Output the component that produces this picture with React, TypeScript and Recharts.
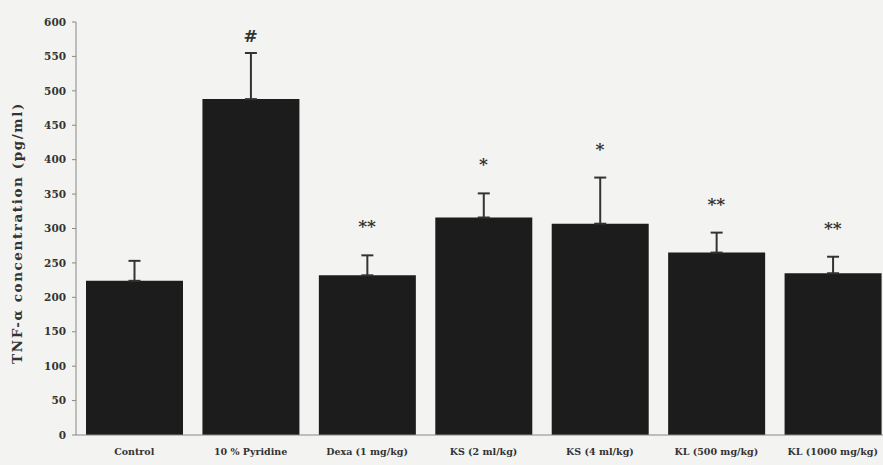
import React from "react";
import {
  ComposedChart,
  Bar,
  Line,
  XAxis,
  YAxis,
  ErrorBar,
  LabelList,
  Label,
} from "recharts";

const categories = [
  "Control",
  "10 % Pyridine",
  "Dexa (1 mg/kg)",
  "KS (2 ml/kg)",
  "KS (4 ml/kg)",
  "KL (500 mg/kg)",
  "KL (1000 mg/kg)",
];
const means = [224, 488, 232, 316, 307, 265, 235];
const sems = [29, 67, 29, 35, 67, 29, 24];
const marks = ["", "#", "**", "*", "*", "**", "**"];
const yTicks = [0, 50, 100, 150, 200, 250, 300, 350, 400, 450, 500, 550, 600];

const data = categories.map((name, i) => ({
  name,
  mean: means[i],
  err: [0, sems[i]],
  top: means[i] + sems[i],
  mark: marks[i],
}));

const FONT = "'DejaVu Serif', 'Liberation Serif', serif";

// significance markers sit above the error bar tip
const renderMark = (props: any) => {
  const { x, y, value } = props;
  if (!value) return null;
  const isHash = value === "#";
  return (
    <text
      x={x}
      y={y - (isHash ? 11 : 23)}
      textAnchor="middle"
      fontFamily={FONT}
      fontWeight="bold"
      fontSize={17}
      fill="#333"
    >
      {value}
    </text>
  );
};

const YLabel = () => (
  <text
    x={17}
    y={233}
    transform="rotate(-90 17 233)"
    textAnchor="middle"
    dominantBaseline="central"
    fontFamily={FONT}
    fontWeight="bold"
    fontSize={13.5}
    letterSpacing={1.6}
    fill="#333"
  >
    TNF-α concentration (pg/ml)
  </text>
);

export default function App() {
  return (
    <div
      style={{
        position: "absolute",
        left: 0,
        top: 0,
        width: 883,
        height: 465,
        overflow: "hidden",
        background: "#f3f3f1",
      }}
    >
      <ComposedChart
        width={892}
        height={465}
        data={data}
        margin={{ top: 22, right: 1, bottom: 0, left: 0 }}
      >
        <XAxis
          dataKey="name"
          height={30}
          tickLine={false}
          axisLine={{ stroke: "#888" }}
          tickSize={6}
          tickMargin={7}
          interval={0}
          tick={{ fontFamily: FONT, fontWeight: "bold", fontSize: 9.5, fill: "#333" }}
        />
        <YAxis
          width={76}
          domain={[0, 600]}
          ticks={yTicks}
          interval={0}
          axisLine={{ stroke: "#888" }}
          tickLine={{ stroke: "#888" }}
          tickSize={4}
          tickMargin={6}
          tick={{ fontFamily: FONT, fontWeight: "bold", fontSize: 10.5, fill: "#333" }}
        >
          <Label content={<YLabel />} />
        </YAxis>
        <Bar dataKey="mean" fill="#1c1c1c" barSize={97} isAnimationActive={false}>
          <ErrorBar dataKey="err" width={6} stroke="#333" strokeWidth={2} />
        </Bar>
        <Line
          dataKey="top"
          stroke="none"
          dot={false}
          activeDot={false}
          isAnimationActive={false}
        >
          <LabelList dataKey="mark" content={renderMark} />
        </Line>
      </ComposedChart>
    </div>
  );
}
